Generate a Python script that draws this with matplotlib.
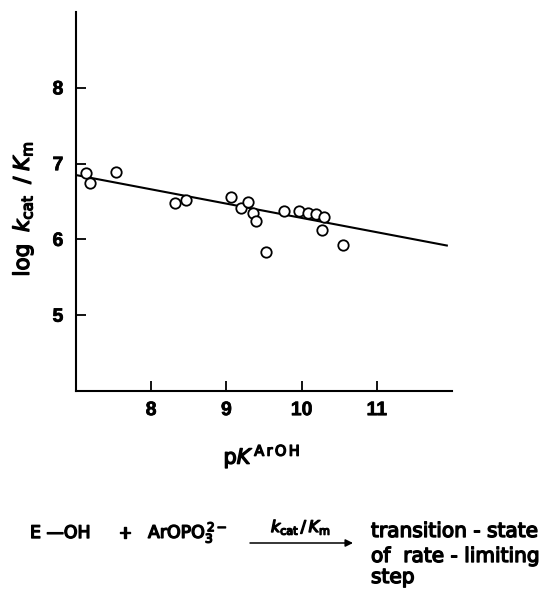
import matplotlib
matplotlib.use("Agg")
import matplotlib.pyplot as plt
import matplotlib.patches as mpatches
import matplotlib.patheffects as pe

# Data
pK = [7.13, 7.19, 7.53, 8.32, 8.46, 9.06, 9.20, 9.29, 9.36, 9.39, 9.52,
      9.77, 9.96, 10.08, 10.19, 10.30, 10.27, 10.55]
logk = [6.88, 6.74, 6.89, 6.48, 6.52, 6.56, 6.42, 6.50, 6.35, 6.25, 5.83,
        6.38, 6.37, 6.35, 6.34, 6.30, 6.13, 5.93]
fit_x = [7.0, 11.93]
fit_y = [6.85, 5.92]
xticks = [8, 9, 10, 11]
yticks = [5, 6, 7, 8]

plt.rcParams['font.family'] = ['DejaVu Sans']
plt.rcParams['mathtext.fontset'] = 'custom'
plt.rcParams['mathtext.it'] = 'DejaVu Sans:italic'
plt.rcParams['mathtext.rm'] = 'DejaVu Sans'
plt.rcParams['mathtext.bf'] = 'DejaVu Sans:bold'

THICK = [pe.withStroke(linewidth=1.0, foreground='black')]

fig = plt.figure(figsize=(5.5, 5.93), dpi=100)
ax = fig.add_axes([0.138, 0.3406, 0.684, 0.639])

ax.plot(fit_x, fit_y, color='black', lw=1.5)
ax.plot(pK, logk, 'o', mfc='white', mec='black', ms=7.5, mew=1.3)

ax.set_xlim(7, 12)
ax.set_ylim(4, 9)
ax.set_xticks(xticks)
ax.set_yticks(yticks)
ax.set_xticklabels([str(t) for t in xticks], fontsize=14, fontweight='bold',
                   family=['Liberation Sans'])
ax.set_yticklabels([str(t) for t in yticks], fontsize=14, fontweight='bold',
                   family=['Liberation Sans'])
for lab in ax.get_xticklabels() + ax.get_yticklabels():
    lab.set_path_effects([pe.withStroke(linewidth=0.5, foreground='black')])
ax.tick_params(direction='in', length=7, width=1.3)
ax.tick_params(axis='x', pad=8)
ax.tick_params(axis='y', pad=9)
for s in ['top', 'right']:
    ax.spines[s].set_visible(False)
for s in ['left', 'bottom']:
    ax.spines[s].set_linewidth(1.5)

xl = ax.set_xlabel(r'p$\mathit{K}^{\,\mathrm{A\,r\,O\,H}}$', fontsize=15)
xl.set_path_effects(THICK)
ax.xaxis.set_label_coords((262 - 76) / 376.0, -(456 - 391) / 379.0)
ax.xaxis.label.set_va('center')
yl = ax.set_ylabel(r'log$\;\;\mathit{k}_{\mathrm{cat}}\;\;/\;\mathit{K}_{\mathrm{m}}$', fontsize=15.5)
yl.set_path_effects(THICK)
ax.yaxis.set_label_coords(-(76 - 23) / 376.0, (391 - 209) / 379.0)
ax.yaxis.label.set_va('center')

# Bottom reaction scheme (figure pixel coords -> fraction)
def fx(px):
    return px / 550.0

def fy(py):
    return 1 - py / 593.0

FS_L = 12.5
FS_R = 14.5
t = fig.text(fx(30), fy(538), 'E —OH', fontsize=FS_L, va='baseline', ha='left')
t.set_path_effects(THICK)
t = fig.text(fx(125), fy(538), '+', fontsize=FS_L, va='baseline', ha='center')
t.set_path_effects(THICK)
t = fig.text(fx(148), fy(538), r'ArOPO$_{\mathrm{3}}^{\,\mathrm{2}\,\mathrm{-}}$', fontsize=FS_L,
             va='baseline', ha='left')
t.set_path_effects(THICK)
t = fig.text(fx(301), fy(532), r'$\mathit{k}_{\mathrm{cat}}\,/\,\mathit{K}_{\mathrm{m}}$',
             fontsize=11.5, va='baseline', ha='center')
t.set_path_effects(THICK)
fig.add_artist(mpatches.FancyArrowPatch((fx(250), fy(543)), (fx(353), fy(543)),
               transform=fig.transFigure, arrowstyle='-|>', mutation_scale=11,
               color='black', lw=1.1, shrinkA=0, shrinkB=0))
for txt, yb in [('transition - state', 537), ('of  rate - limiting', 562), ('step', 583)]:
    t = fig.text(fx(371), fy(yb), txt, fontsize=FS_R, va='baseline', ha='left')
    t.set_path_effects(THICK)

fig.savefig('out.png', dpi=100)
